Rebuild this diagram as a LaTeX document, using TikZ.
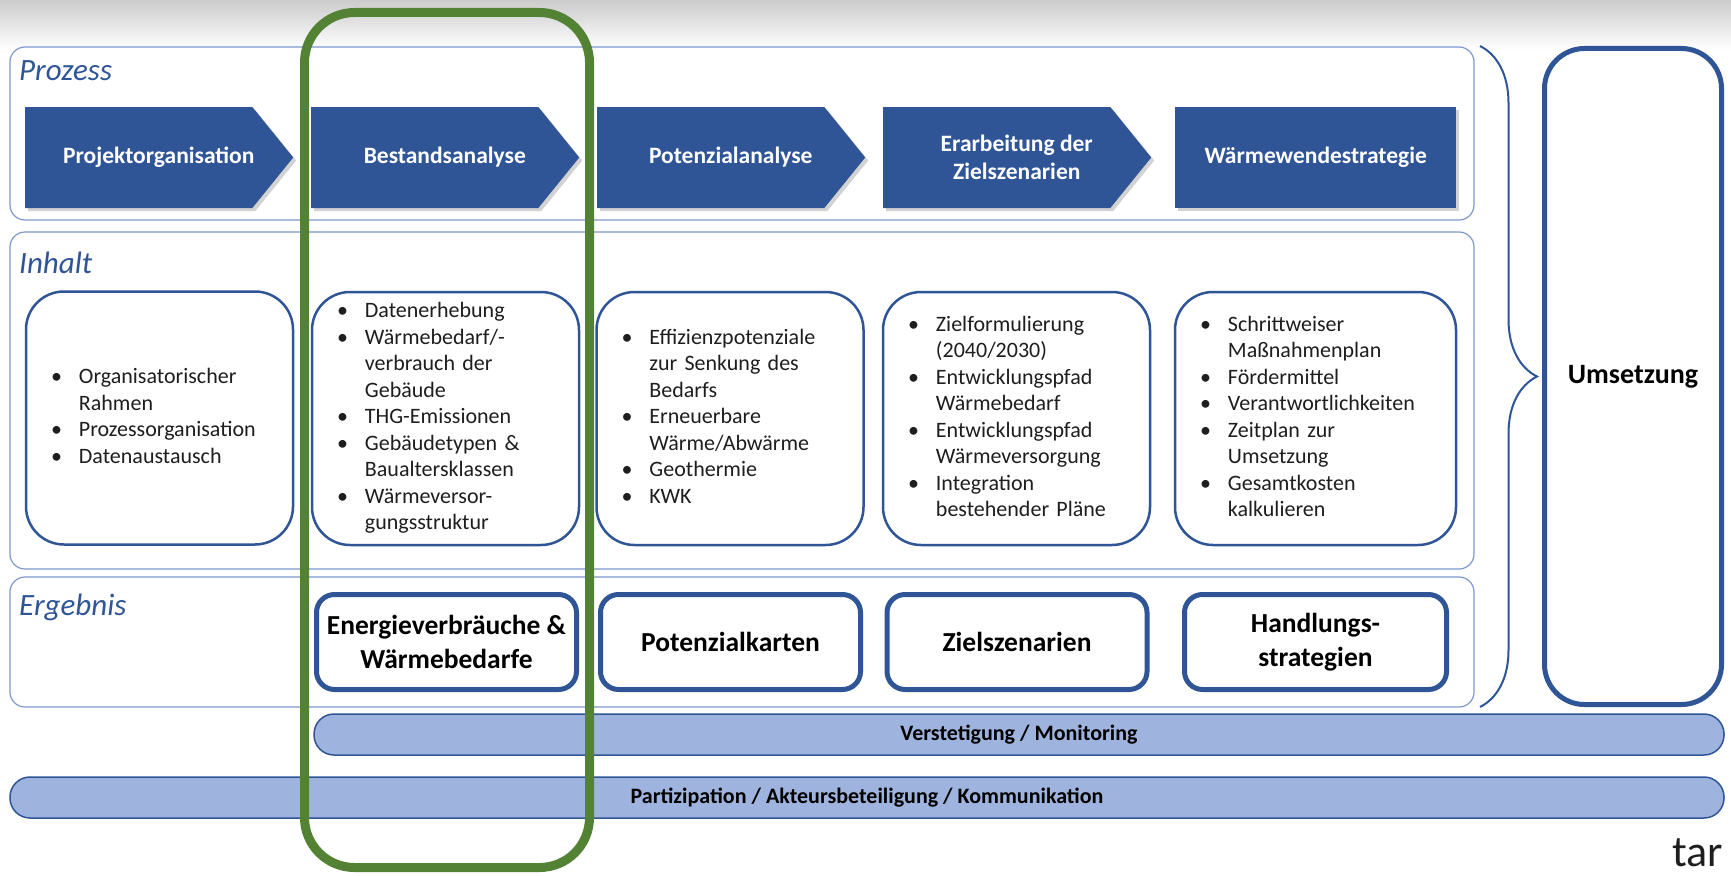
\documentclass[tikz,border=0pt]{standalone}
\usepackage{fontspec}
\setmainfont{Carlito}
\usepackage{tikz}
\usetikzlibrary{shapes.symbols, shadows, decorations.pathreplacing}

\definecolor{darkblue}{RGB}{47,85,151}
\definecolor{panelblue}{RGB}{125,152,205}
\definecolor{barblue}{RGB}{158,180,222}
\definecolor{focusgreen}{RGB}{84,130,53}
\definecolor{textgray}{RGB}{30,30,30}

\begin{document}
\begin{tikzpicture}[x=1pt, y=-1pt,
    panel/.style={draw=panelblue, line width=1.2pt, rounded corners=15pt, fill=white, inner sep=0pt},
    panellabel/.style={anchor=base west, inner sep=0pt, text=darkblue, font=\fontsize{31}{37}\selectfont\itshape},
    procstep/.style={signal, signal to=east, signal pointer angle=102, fill=darkblue, inner sep=0pt, minimum width=268pt, minimum height=101pt, anchor=west, drop shadow={opacity=0.35, shadow xshift=3pt, shadow yshift=-3pt}},
    steptext/.style={text=white, inner sep=0pt, align=center, xshift=20pt, font=\fontsize{23.5}{28.5}\selectfont\bfseries},
    content/.style={draw=darkblue, line width=2.5pt, rounded corners=38pt, fill=white, minimum height=253pt, text width=237pt, inner xsep=15pt, align=left, text=textgray, font=\fontsize{22}{26.5}\selectfont},
    result/.style={draw=darkblue, line width=5pt, rounded corners=18pt, fill=white, minimum width=260pt, minimum height=95pt, align=center, text=black, font=\fontsize{27.5}{34}\selectfont\bfseries},
    bar/.style={draw=darkblue, line width=1.5pt, fill=barblue, rounded corners=20pt, minimum height=41pt, inner sep=0pt, text=black, font=\fontsize{22}{26}\selectfont\bfseries}
]
    \useasboundingbox (0,0) rectangle (1731,875);
    \fill[white] (0,0) rectangle (1731,875);
    \shade[top color=black!20, bottom color=white] (0,0) rectangle (1731,50);

    % Rows
    \node[panel, minimum width=1464pt, minimum height=173pt] (prozess) at (742,133.5) {};
    \node[panel, minimum width=1464pt, minimum height=337pt] (inhalt) at (742,400.5) {};
    \node[panel, minimum width=1464pt, minimum height=130pt] (ergebnis) at (742,642) {};
    \node[panellabel] (lblprozess) at (19,80) {Prozess};
    \node[panellabel] (lblinhalt) at (19,273) {Inhalt};
    \node[panellabel] (lblergebnis) at (19,615) {Ergebnis};

    % Process steps
    \node[procstep, label={[steptext]center:Projektorganisation}] (proj) at (25,157.5) {};
    \node[procstep, label={[steptext]center:Bestandsanalyse}] (bestand) at (311,157.5) {};
    \node[procstep, label={[steptext]center:Potenzialanalyse}] (potenzial) at (597,157.5) {};
    \node[procstep, label={[steptext]center:Erarbeitung der\\Zielszenarien}] (ziel) at (883,157.5) {};
    \node[procstep, rectangle, minimum width=281pt, label={[steptext, xshift=-20pt]center:Wärmewendestrategie}] (strategie) at (1175,157.5) {};

    % Contents
    \node[content] (inh1) at (159.5,418) {\begin{tabular}{@{\hspace{10pt}}l@{\hspace{17pt}}l@{}}
        \textbullet & Organisatorischer\\
        & Rahmen\\
        \textbullet & Prozessorganisation\\
        \textbullet & Datenaustausch
    \end{tabular}};
    \node[content] (inh2) at (445.5,418.5) {\begin{tabular}{@{\hspace{10pt}}l@{\hspace{17pt}}l@{}}
        \textbullet & Datenerhebung\\
        \textbullet & Wärmebedarf/-\\
        & verbrauch der\\
        & Gebäude\\
        \textbullet & THG-Emissionen\\
        \textbullet & Gebäudetypen \&\\
        & Baualtersklassen\\
        \textbullet & Wärmeversor-\\
        & gungsstruktur
    \end{tabular}};
    \node[content] (inh3) at (730,418.5) {\begin{tabular}{@{\hspace{10pt}}l@{\hspace{17pt}}l@{}}
        \textbullet & Effizienzpotenziale\\
        & zur Senkung des\\
        & Bedarfs\\
        \textbullet & Erneuerbare\\
        & Wärme/Abwärme\\
        \textbullet & Geothermie\\
        \textbullet & KWK
    \end{tabular}};
    \node[content] (inh4) at (1016.5,418.5) {\begin{tabular}{@{\hspace{10pt}}l@{\hspace{17pt}}l@{}}
        \textbullet & Zielformulierung\\
        & (2040/2030)\\
        \textbullet & Entwicklungspfad\\
        & Wärmebedarf\\
        \textbullet & Entwicklungspfad\\
        & Wärmeversorgung\\
        \textbullet & Integration\\
        & bestehender Pläne
    \end{tabular}};
    \node[content, text width=251pt] (inh5) at (1315.5,418.5) {\begin{tabular}{@{\hspace{10pt}}l@{\hspace{17pt}}l@{}}
        \textbullet & Schrittweiser\\
        & Maßnahmenplan\\
        \textbullet & Fördermittel\\
        \textbullet & Verantwortlichkeiten\\
        \textbullet & Zeitplan zur\\
        & Umsetzung\\
        \textbullet & Gesamtkosten\\
        & kalkulieren
    \end{tabular}};

    % Results
    \node[result] (res2) at (446.5,642) {Energieverbräuche \&\\Wärmebedarfe};
    \node[result] (res3) at (730.5,642) {Potenzialkarten};
    \node[result] (res4) at (1017,642) {Zielszenarien};
    \node[result, minimum width=262pt] (res5) at (1315.5,642) {Handlungs-\\strategien};

    % Implementation
    \coordinate (bracetop) at (1480,46);
    \coordinate (bracebot) at (1480,707);
    \draw[darkblue, line width=2pt, decorate, decoration={brace, amplitude=57pt}] (bracetop) -- (bracebot);
    \node[draw=darkblue, line width=5pt, rounded corners=40pt, fill=white, minimum width=177pt, minimum height=656pt, text=black, font=\fontsize{28}{34}\selectfont\bfseries] (umsetzung) at (1633,376.5) {Umsetzung};

    % Cross-cutting bars
    \node[bar, minimum width=1410pt] (monitoring) at (1019,734.5) {Verstetigung / Monitoring};
    \node[bar, minimum width=1714pt] (partizipation) at (867,797.5) {Partizipation / Akteursbeteiligung / Kommunikation};

    % Focus frame
    \node[draw=focusgreen, line width=9pt, rounded corners=50pt, minimum width=285pt, minimum height=855pt] (focus) at (447,440) {};

    \node[anchor=base west, inner sep=0pt, text=textgray, font=\fontsize{44}{50}\selectfont] (tar) at (1672,866) {tar};
\end{tikzpicture}
\end{document}
